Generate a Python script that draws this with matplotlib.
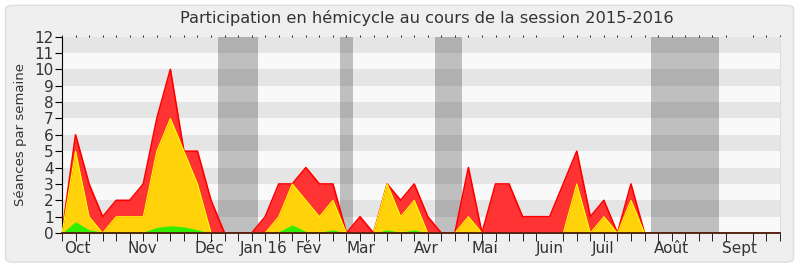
import numpy as np
import matplotlib.pyplot as plt
from matplotlib.patches import FancyBboxPatch

# Participation hebdomadaire (une valeur par semaine, 54 semaines)
semaines = np.arange(54)
presences = [0, 6, 3, 1, 2, 2, 3, 7, 10, 5, 5, 2, 0, 0, 0, 1, 3, 3, 4, 3,
             3, 0, 1, 0, 3, 2, 3, 1, 0, 0, 4, 0, 3, 3, 1, 1, 1, 3, 5, 1,
             2, 0, 3, 0, 0, 0, 0, 0, 0, 0, 0, 0, 0, 0]
interventions = [0, 5, 1, 0, 1, 1, 1, 5, 7, 5, 3, 0, 0, 0, 0, 0, 1, 3, 2, 1,
                 2, 0, 0, 0, 3, 1, 2, 0, 0, 0, 1, 0, 0, 0, 0, 0, 0, 0, 3, 0,
                 1, 0, 2, 0, 0, 0, 0, 0, 0, 0, 0, 0, 0, 0]
commission = [0, 0.7, 0.2, 0.05, 0.07, 0.07, 0.07, 0.35, 0.45, 0.38, 0.2, 0, 0, 0,
              0, 0, 0.1, 0.5, 0.1, 0.05, 0.2, 0, 0, 0, 0.2, 0.05, 0.2, 0, 0, 0,
              0.05, 0, 0, 0, 0, 0, 0, 0, 0.1, 0, 0.05, 0, 0.05, 0, 0, 0, 0, 0,
              0, 0, 0, 0, 0, 0]

# Vacances parlementaires (debut, fin) en semaines
vacances = [(11.5, 14.5), (20.5, 21.5), (27.5, 29.5), (43.5, 48.5)]

mois = ['Oct', 'Nov', 'Déc', 'Jan 16', 'Fév', 'Mar', 'Avr', 'Mai', 'Juin', 'Juil', 'Août', 'Sept']
mois_pos = [1.15, 5.95, 10.9, 14.9, 18.2, 22.1, 26.9, 31.2, 36.0, 39.95, 44.95, 50.0]

fig = plt.figure(figsize=(8, 2.67), dpi=100, facecolor='white')
fig.patches.append(FancyBboxPatch((0.007, 0.018), 0.985, 0.962, boxstyle='round,pad=0,rounding_size=0.012',
                                  transform=fig.transFigure, facecolor='#efefef', edgecolor='#dedede',
                                  lw=1, zorder=-10))
ax = fig.add_axes([0.0775, 0.127, 0.8975, 0.736])
ax.set_facecolor('#f9f9f9')

# bandes horizontales
for y in range(1, 12, 2):
    ax.axhspan(y, y + 1, color='black', alpha=0.08, lw=0, zorder=1)
# vacances
for d, f in vacances:
    ax.axvspan(d, f, color='#bfbfbf', lw=0, zorder=0.5)

ax.fill_between(semaines, presences, color='#ff3333', lw=0, zorder=2)
ax.plot(semaines, presences, color='#ff0000', lw=1.2, zorder=2.1)
ax.fill_between(semaines, interventions, color='#ffd20a', lw=0, zorder=3)
ax.plot(semaines, interventions, color='#ffff00', lw=0.8, zorder=3.1)
ax.fill_between(semaines, commission, color='#33ee00', lw=0, zorder=4)

ax.set_xlim(0, 53)
ax.set_ylim(0, 12)
ax.set_yticks(range(13))
ax.set_xticks(semaines, minor=True)
ax.set_xticks(mois_pos)
ax.set_xticklabels(mois)
ax.tick_params(axis='x', which='major', length=0, labelsize=11, colors='#333333', pad=6)
ax.tick_params(axis='x', which='minor', length=6, direction='out', color='black')
ax.tick_params(axis='y', length=5, direction='out', labelsize=11, colors='#333333', pad=1)
ax.tick_params(axis='y', color='black')
ax.tick_params(axis='x', which='minor', top=True, labeltop=False)
for t in ax.xaxis.get_minor_ticks():
    t.tick2line.set_markersize(1.5)
    t.tick2line.set_markeredgecolor('black')
ax.spines['top'].set_visible(False)
ax.spines['right'].set_color('#dddddd')
ax.spines['left'].set_color('black')
ax.spines['bottom'].set_color('#4a1a10')
ax.spines['bottom'].set_linewidth(1.3)
ax.spines['bottom'].set_zorder(5)

ax.set_ylabel('Séances par semaine', fontsize=9.5, color='#333333', labelpad=5)
fig.suptitle('Participation en hémicycle au cours de la session 2015-2016', fontsize=11.7,
             color='#333333', x=0.534, y=0.962)

plt.savefig('out.png', dpi=100, facecolor=fig.get_facecolor())
